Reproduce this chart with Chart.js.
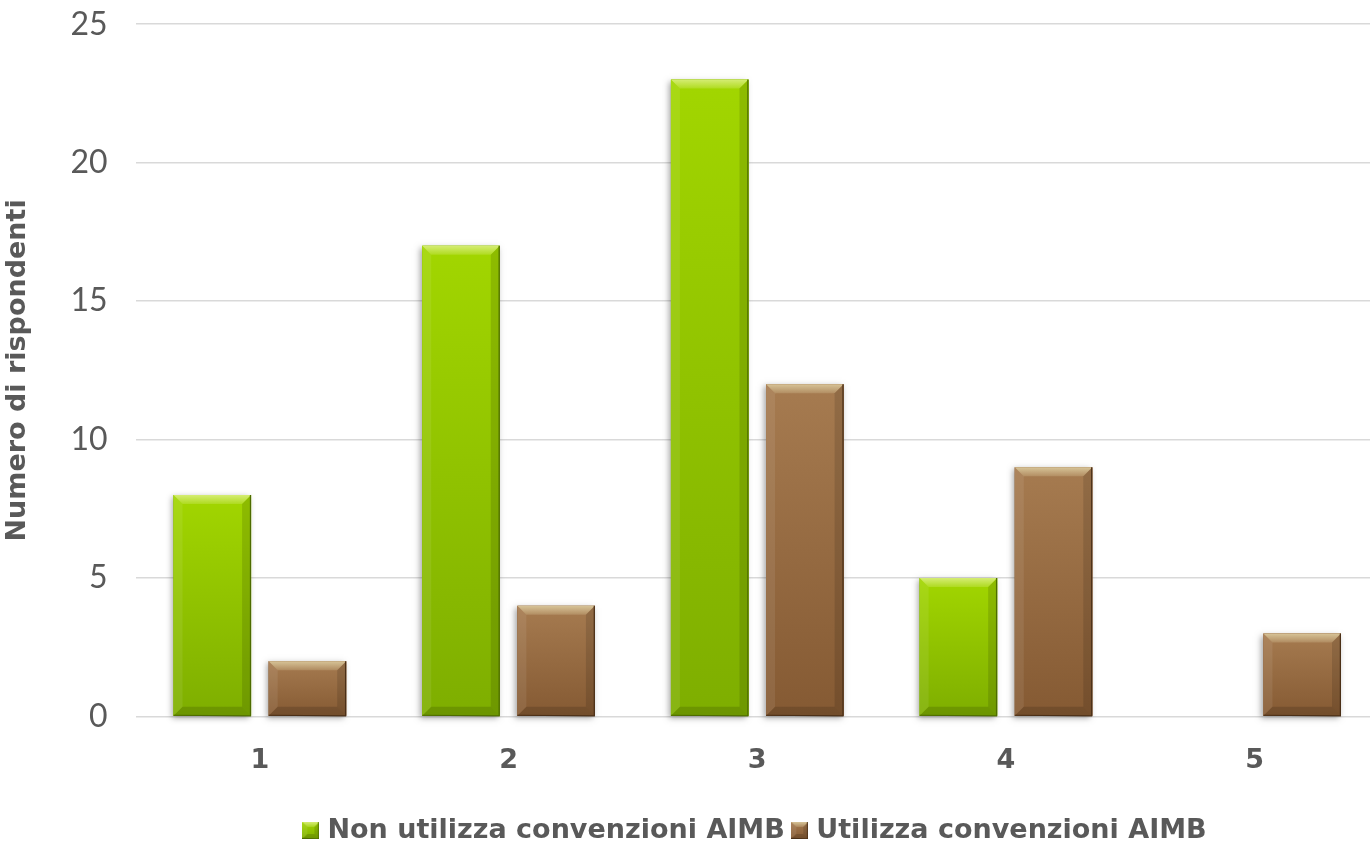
<!DOCTYPE html>
<html>
<head>
<meta charset="utf-8">
<script src="https://cdn.jsdelivr.net/npm/chart.js@4/dist/chart.umd.min.js"></script>
<style>
  html, body { margin: 0; padding: 0; background: #ffffff; overflow: hidden; }
  #wrap { position: relative; top: -23px; width: 1382px; height: 883px; }
</style>
</head>
<body>
<div id="wrap"><canvas id="chart"></canvas></div>
<script>
// Categories on the x axis and respondent counts per group
const categories = ['1', '2', '3', '4', '5'];
const nonUtilizza = [8, 17, 23, 5, 0];
const utilizza = [2, 4, 12, 9, 3];
const seriesNames = ['Non utilizza convenzioni AIMB', 'Utilizza convenzioni AIMB'];
const axisTitle = 'Numero di rispondenti';

// Bevelled fills: body gradient from top to bottom
const palettes = [
  { mid: '#8fc400', top: '#a2d600', bottom: '#7eae00', edge: '#4d6b00' },
  { mid: '#97693f', top: '#a67b50', bottom: '#855a33', edge: '#4a2f17' }
];

function poly(ctx, pts, fill) {
  ctx.beginPath();
  ctx.moveTo(pts[0][0], pts[0][1]);
  for (let i = 1; i < pts.length; i++) ctx.lineTo(pts[i][0], pts[i][1]);
  ctx.closePath();
  ctx.fillStyle = fill;
  ctx.fill();
}

function paintBevel(ctx, l, t, r, b, pal, bevelMax, shadow) {
  const w = r - l, h = b - t;
  if (h <= 0.5 || w <= 0.5) return;
  if (shadow) {
    ctx.save();
    ctx.shadowColor = 'rgba(0,0,0,0.35)';
    ctx.shadowBlur = 6;
    ctx.shadowOffsetX = -2;
    ctx.shadowOffsetY = 2;
    ctx.fillStyle = pal.mid;
    ctx.fillRect(l, t, w, h);
    ctx.restore();
  }
  const g = ctx.createLinearGradient(0, t, 0, b);
  g.addColorStop(0, pal.top);
  g.addColorStop(1, pal.bottom);
  ctx.fillStyle = g;
  ctx.fillRect(l, t, w, h);
  const bv = Math.min(bevelMax, h / 2, w / 2);
  const tg = ctx.createLinearGradient(0, t, 0, t + bv);
  tg.addColorStop(0, 'rgba(255,255,210,0.55)');
  tg.addColorStop(1, 'rgba(255,255,210,0.15)');
  poly(ctx, [[l, t], [r, t], [r - bv, t + bv], [l + bv, t + bv]], tg);
  poly(ctx, [[l, t], [l + bv, t + bv], [l + bv, b - bv], [l, b]], 'rgba(255,255,255,0.08)');
  poly(ctx, [[r, t], [r, b], [r - bv, b - bv], [r - bv, t + bv]], 'rgba(0,0,0,0.12)');
  poly(ctx, [[l, b], [l + bv, b - bv], [r - bv, b - bv], [r, b]], 'rgba(0,0,0,0.14)');
  ctx.save();
  ctx.strokeStyle = pal.edge;
  ctx.lineWidth = 1.2;
  ctx.beginPath();
  ctx.moveTo(r - 0.6, t);
  ctx.lineTo(r - 0.6, b);
  ctx.lineTo(l, b - 0.6);
  ctx.stroke();
  ctx.restore();
}

// Small bevelled squares used as legend markers
function legendMarker(pal) {
  const c = document.createElement('canvas');
  c.width = 17; c.height = 17;
  paintBevel(c.getContext('2d'), 0, 0, 17, 17, pal, 5, false);
  return c;
}

const bevelPlugin = {
  id: 'bevelBars',
  afterDatasetsDraw(chart) {
    const ctx = chart.ctx;
    chart.data.datasets.forEach((ds, i) => {
      const meta = chart.getDatasetMeta(i);
      if (meta.hidden) return;
      meta.data.forEach(bar => {
        const p = bar.getProps(['x', 'y', 'base', 'width'], true);
        const l = p.x - p.width / 2, r = p.x + p.width / 2;
        const t = Math.min(p.y, p.base), b = Math.max(p.y, p.base);
        paintBevel(ctx, l, t, r, b, palettes[i], 9, true);
      });
    });
  }
};

const textColor = '#595959';

new Chart(document.getElementById('chart'), {
  type: 'bar',
  data: {
    labels: categories,
    datasets: [
      {
        label: seriesNames[0],
        data: nonUtilizza,
        backgroundColor: palettes[0].mid,
        pointStyle: legendMarker(palettes[0]),
        categoryPercentage: 0.765,
        barPercentage: 0.815
      },
      {
        label: seriesNames[1],
        data: utilizza,
        backgroundColor: palettes[1].mid,
        pointStyle: legendMarker(palettes[1]),
        categoryPercentage: 0.765,
        barPercentage: 0.815
      }
    ]
  },
  options: {
    responsive: true,
    maintainAspectRatio: false,
    animation: false,
    layout: { padding: { left: 2, right: 3, top: 10, bottom: 6 } },
    scales: {
      x: {
        grid: { display: false, drawTicks: false },
        border: { display: false },
        ticks: {
          color: textColor,
          padding: 28,
          font: { family: 'DejaVu Sans', size: 27, weight: 'bold' }
        }
      },
      y: {
        min: 0,
        max: 25,
        ticks: {
          stepSize: 5,
          color: textColor,
          padding: 28,
          font: { family: 'Lato', size: 32, weight: 'normal' }
        },
        grid: { color: '#d9d9d9', lineWidth: 1.5, drawTicks: false },
        border: { display: false },
        title: {
          display: true,
          text: axisTitle,
          color: textColor,
          padding: { top: 0, bottom: 8 },
          font: { family: 'DejaVu Sans', size: 27, weight: 'bold' }
        }
      }
    },
    plugins: {
      legend: {
        position: 'bottom',
        fullSize: false,
        labels: {
          usePointStyle: true,
          pointStyleWidth: 6,
          color: textColor,
          padding: 12,
          font: { family: 'DejaVu Sans', size: 27, weight: 'bold' }
        }
      },
      tooltip: { enabled: false }
    }
  },
  plugins: [bevelPlugin]
});
</script>
</body>
</html>
